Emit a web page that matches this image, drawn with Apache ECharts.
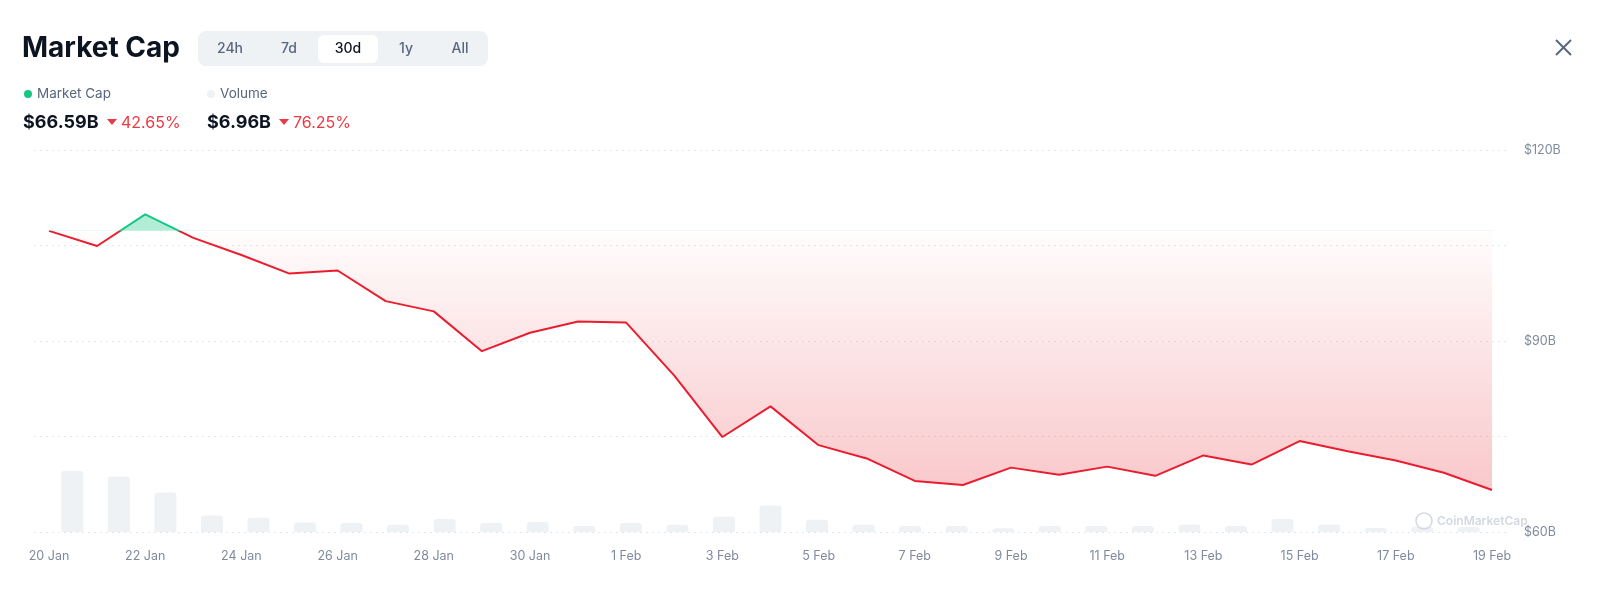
<!DOCTYPE html>
<html>
<head>
<meta charset="utf-8">
<script src="https://cdn.jsdelivr.net/npm/echarts@6/dist/echarts.min.js"></script>
<style>
html, body { margin: 0; padding: 0; background: #fff; }
#chart { width: 1600px; height: 592px; }
</style>
</head>
<body>
<div id="chart"></div>
<script>
// 日期 (20 Jan - 19 Feb)
var dates = ['20 Jan', '21 Jan', '22 Jan', '23 Jan', '24 Jan', '25 Jan', '26 Jan', '27 Jan', '28 Jan', '29 Jan',
    '30 Jan', '31 Jan', '1 Feb', '2 Feb', '3 Feb', '4 Feb', '5 Feb', '6 Feb', '7 Feb', '8 Feb',
    '9 Feb', '10 Feb', '11 Feb', '12 Feb', '13 Feb', '14 Feb', '15 Feb', '16 Feb', '17 Feb', '18 Feb', '19 Feb'];
// 市值 ($B)
var marketCap = [107.30, 104.92, 109.90, 106.20, 103.50, 100.59, 101.07, 96.26, 94.65, 88.40,
    91.29, 93.05, 92.89, 84.55, 74.92, 79.73, 73.64, 71.55, 68.02, 67.38,
    70.11, 68.98, 70.27, 68.82, 72.03, 70.59, 74.28, 72.67, 71.23, 69.31, 66.59];
// 成交量 ($B)
var volume = [83.5, 75.5, 53.8, 22.3, 19.5, 12.9, 12.1, 9.7, 17.7, 12.1,
    13.5, 8.3, 12.1, 9.7, 20.9, 36.2, 16.7, 9.7, 8.3, 8.3,
    5.1, 8.3, 8.3, 8.3, 10.2, 8.3, 17.7, 10.2, 5.6, 7.0, 6.96];
// 右侧刻度
var yLabels = [60, 90, 120];

var GREEN = '#16c784';
var RED = '#ea3943';
var LINE_RED = '#ea1d2f';
var GREY = '#58667e';
var AXIS_GREY = '#808a9d';
var FONT = 'Inter, "Noto Sans", sans-serif';
var baseValue = marketCap[0];

var myChart = echarts.init(document.getElementById('chart'));

var tabNames = ['24h', '7d', '30d', '1y', 'All'];
var tabX = [230, 289, 348, 406, 460];

/*顶部标题、切换按钮、图例*/
function headerGraphics() {
    var g = [
        { type: 'text', x: 22, y: 49, style: { text: 'Market Cap', font: '700 28px ' + FONT, fill: '#0d1421', verticalAlign: 'middle' } },
        { type: 'rect', shape: { x: 198, y: 31, width: 290, height: 35, r: 8 }, style: { fill: '#eff2f5' } },
        { type: 'rect', shape: { x: 318, y: 35, width: 60, height: 28, r: 6 }, style: { fill: '#ffffff' } },
        { type: 'circle', shape: { cx: 28, cy: 94, r: 4 }, style: { fill: GREEN } },
        { type: 'text', x: 37, y: 94, style: { text: 'Market Cap', font: '13.5px ' + FONT, fill: GREY, verticalAlign: 'middle' } },
        { type: 'circle', shape: { cx: 211, cy: 94, r: 4 }, style: { fill: '#eff2f5' } },
        { type: 'text', x: 220, y: 94, style: { text: 'Volume', font: '13.5px ' + FONT, fill: GREY, verticalAlign: 'middle' } },
        { type: 'text', x: 23, y: 123, style: { text: '$66.59B', font: '700 18px ' + FONT, fill: '#0d1421', verticalAlign: 'middle' } },
        { type: 'polygon', shape: { points: [[107, 119], [117, 119], [112, 125]] }, style: { fill: RED } },
        { type: 'text', x: 121, y: 123, style: { text: '42.65%', font: '16px ' + FONT, fill: RED, verticalAlign: 'middle' } },
        { type: 'text', x: 207, y: 123, style: { text: '$6.96B', font: '700 18px ' + FONT, fill: '#0d1421', verticalAlign: 'middle' } },
        { type: 'polygon', shape: { points: [[279, 119], [289, 119], [284, 125]] }, style: { fill: RED } },
        { type: 'text', x: 293, y: 123, style: { text: '76.25%', font: '16px ' + FONT, fill: RED, verticalAlign: 'middle' } },
        { type: 'line', shape: { x1: 1556, y1: 40, x2: 1571, y2: 55 }, style: { stroke: GREY, lineWidth: 2 } },
        { type: 'line', shape: { x1: 1571, y1: 40, x2: 1556, y2: 55 }, style: { stroke: GREY, lineWidth: 2 } },
        { type: 'circle', shape: { cx: 1424, cy: 521, r: 8 }, style: { fill: 'none', stroke: '#d3d8e0', lineWidth: 1.5 }, z: 100 },
        { type: 'text', x: 1437, y: 521, z: 100, style: { text: 'CoinMarketCap', font: '600 12px ' + FONT, fill: '#d3d8e0', verticalAlign: 'middle' } }
    ];
    for (var i = 0; i < tabNames.length; i++) {
        g.push({
            type: 'text', x: tabX[i], y: 49,
            style: { text: tabNames[i], font: '500 14px ' + FONT, fill: i == 2 ? '#0d1421' : GREY, align: 'center', verticalAlign: 'middle' }
        });
    }
    return g;
}

myChart.setOption({
    animation: false,
    graphic: headerGraphics(),
    grid: [
        { left: 34, right: 92, top: 150, bottom: 60 },   // 网格线 + 右侧刻度
        { left: 49, right: 108, top: 150, bottom: 60 }   // 数据
    ],
    xAxis: [
        { type: 'category', gridIndex: 0, show: false, data: dates },
        {
            type: 'category', gridIndex: 1, boundaryGap: false, data: dates,
            axisLine: { show: false }, axisTick: { show: false },
            axisLabel: { interval: 1, margin: 18, color: AXIS_GREY, fontSize: 12.5, fontFamily: FONT }
        },
        { type: 'category', gridIndex: 1, show: false, boundaryGap: true, data: dates }
    ],
    yAxis: [
        {
            type: 'value', gridIndex: 0, position: 'right', min: 60, max: 120, interval: 15,
            axisLine: { show: false }, axisTick: { show: false },
            splitLine: { show: true, lineStyle: { color: '#e3e7ee', type: [2, 4], width: 1 } },
            axisLabel: {
                margin: 16, color: AXIS_GREY, fontSize: 12.5, fontFamily: FONT,
                formatter: function (val) {
                    return yLabels.indexOf(val) >= 0 ? '$' + val + 'B' : '';
                }
            }
        },
        { type: 'value', gridIndex: 1, min: 60, max: 120, show: false },
        { type: 'value', gridIndex: 1, min: 0, max: 520, show: false }
    ],
    series: [
        {
            name: 'Volume', type: 'bar', xAxisIndex: 2, yAxisIndex: 2,
            barWidth: 22, data: volume,
            itemStyle: { color: '#eff2f5', borderRadius: [3, 3, 0, 0] },
            z: 1
        },
        {
            name: 'Market Cap', type: 'line', xAxisIndex: 1, yAxisIndex: 1,
            data: marketCap, symbol: 'none', smooth: false,
            lineStyle: { width: 2, color: LINE_RED },
            areaStyle: { origin: baseValue, color: 'rgba(234,57,67,0.1)', opacity: 1 },
            z: 3
        }
    ]
});

/*用像素坐标设置渐变: 基准线以上绿色, 以下红色*/
var yTop = myChart.convertToPixel({ yAxisIndex: 1 }, Math.max.apply(null, marketCap));
var yBase = myChart.convertToPixel({ yAxisIndex: 1 }, baseValue);
var yBottom = myChart.convertToPixel({ yAxisIndex: 1 }, Math.min.apply(null, marketCap));
var cut = (yBase - yTop) / (yBottom - yTop);

myChart.setOption({
    series: [
        {},
        {
            lineStyle: {
                color: new echarts.graphic.LinearGradient(0, yTop, 0, yBottom, [
                    { offset: 0, color: GREEN },
                    { offset: cut, color: GREEN },
                    { offset: cut, color: LINE_RED },
                    { offset: 1, color: LINE_RED }
                ], true)
            },
            areaStyle: {
                color: new echarts.graphic.LinearGradient(0, yTop, 0, yBottom, [
                    { offset: 0, color: 'rgba(22,199,132,0.33)' },
                    { offset: cut, color: 'rgba(22,199,132,0.33)' },
                    { offset: cut, color: 'rgba(234,57,67,0.01)' },
                    { offset: 1, color: 'rgba(234,57,67,0.28)' }
                ], true)
            }
        }
    ]
});

window.onresize = function () {
    myChart.resize();
};
</script>
</body>
</html>
